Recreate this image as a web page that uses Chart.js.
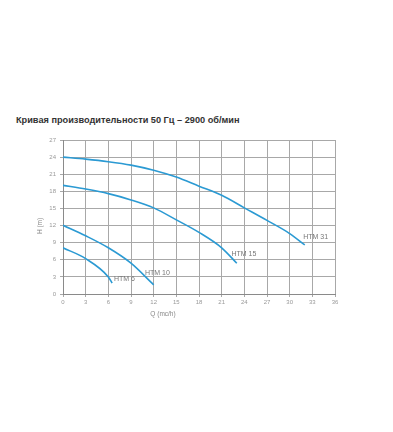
<!DOCTYPE html>
<html>
<head>
<meta charset="utf-8">
<script src="https://cdn.jsdelivr.net/npm/chart.js@4"></script>
<style>
  html, body { margin: 0; padding: 0; background: #fff; }
  #wrap { position: relative; width: 393px; height: 432px; }
  #title {
    position: absolute; left: 16px; top: 115px;
    font: bold 9.2px "Liberation Sans", Arial, sans-serif; color: #333;
    white-space: nowrap;
  }
  canvas { position: absolute; left: 0; top: 0; }
</style>
</head>
<body>
<div id="wrap">
  <div id="title">Кривая производительности 50 Гц – 2900 об/мин</div>
  <canvas id="chart" width="393" height="432"></canvas>
</div>
<script>
const xTicks = [0, 3, 6, 9, 12, 15, 18, 21, 24, 27, 30, 33, 36];
const yTicks = [0, 3, 6, 9, 12, 15, 18, 21, 24, 27];

const seriesNames = ['HTM 31', 'HTM 15', 'HTM 10', 'HTM 6'];
const q31 = [0, 3, 6, 9, 12, 15, 18, 21, 24, 27, 30, 32];
const h31 = [24, 23.65, 23.2, 22.6, 21.7, 20.5, 18.9, 17.3, 15.1, 12.9, 10.6, 8.6];
const q15 = [0, 3, 6, 9, 12, 15, 18, 21, 23];
const h15 = [19.05, 18.4, 17.6, 16.5, 15.1, 13.0, 10.8, 8.1, 5.4];
const q10 = [0, 3, 6, 9, 12];
const h10 = [12.05, 10.2, 8.1, 5.4, 1.6];
const q6 = [0, 3, 6, 6.5];
const h6 = [8.1, 6.2, 3.0, 1.9];

// where each curve's name starts, in data units
const labelPos = [[31.8, 10.0], [22.3, 7.0], [10.85, 3.7], [6.75, 2.6]];

const lineColor = '#2b9ad3';

function pairs(qs, hs) {
    return qs.map((q, i) => ({ x: q, y: hs[i] }));
}

const curves = [pairs(q31, h31), pairs(q15, h15), pairs(q10, h10), pairs(q6, h6)];

const curveLabels = {
    id: 'curveLabels',
    afterDatasetsDraw(chart) {
        const { ctx, scales: { x, y }, chartArea } = chart;
        ctx.save();
        ctx.fillStyle = '#777';
        ctx.font = '7px "Liberation Sans", Arial, sans-serif';
        ctx.textBaseline = 'middle';
        ctx.textAlign = 'left';
        seriesNames.forEach((name, i) => {
            ctx.fillText(name, x.getPixelForValue(labelPos[i][0]), y.getPixelForValue(labelPos[i][1]));
        });
        // axis titles
        ctx.fillStyle = '#888';
        ctx.font = '6.5px "Liberation Sans", Arial, sans-serif';
        ctx.textAlign = 'center';
        ctx.fillText('Q (mc/h)', (chartArea.left + chartArea.right) / 2 - 36, chartArea.bottom + 20);
        ctx.translate(40, (chartArea.top + chartArea.bottom) / 2 + 9);
        ctx.rotate(-Math.PI / 2);
        ctx.fillText('H (m)', 0, 0);
        ctx.restore();
    }
};

new Chart(document.getElementById('chart'), {
    type: 'line',
    data: {
        datasets: curves.map((pts, i) => ({
            label: seriesNames[i],
            data: pts,
            borderColor: lineColor,
            borderWidth: 1.6,
            pointRadius: 0,
            fill: false,
            cubicInterpolationMode: 'monotone'
        }))
    },
    options: {
        responsive: false,
        animation: false,
        layout: { padding: { left: 0, right: 58, top: 140, bottom: 108 } },
        plugins: { legend: { display: false }, tooltip: { enabled: false } },
        scales: {
            x: {
                type: 'linear', min: 0, max: 36,
                afterBuildTicks: s => { s.ticks = xTicks.map(v => ({ value: v })); },
                afterFit: s => { s.height = 30; },
                grid: { color: '#a8a8a8', lineWidth: 1, tickLength: 3 },
                border: { color: '#8a8a8a' },
                ticks: { color: '#999', font: { size: 6, family: 'Liberation Sans' }, padding: 2, maxRotation: 0 }
            },
            y: {
                type: 'linear', min: 0, max: 27,
                afterBuildTicks: s => { s.ticks = yTicks.map(v => ({ value: v })); },
                afterFit: s => { s.width = 63; },
                grid: { color: '#a8a8a8', lineWidth: 1, tickLength: 3 },
                border: { color: '#8a8a8a' },
                ticks: { color: '#999', font: { size: 6, family: 'Liberation Sans' }, padding: 4 }
            }
        }
    },
    plugins: [curveLabels]
});
</script>
</body>
</html>
